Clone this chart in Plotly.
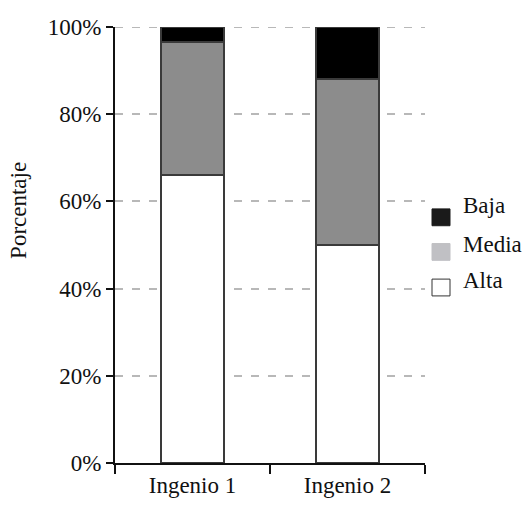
import plotly.graph_objects as go

# Share of each level per mill (percent)
categories = ["Ingenio 1", "Ingenio 2"]
alta = [66.0, 50.0]
media = [30.5, 38.0]
baja = [3.5, 12.0]

levels = ["Alta", "Media", "Baja"]
values = {"Alta": alta, "Media": media, "Baja": baja}
bar_colors = {"Alta": "#ffffff", "Media": "#8c8c8c", "Baja": "#000000"}
key_colors = {"Alta": "#ffffff", "Media": "#c0c0c4", "Baja": "#1a1a1a"}

FONT = "Liberation Serif"

fig = go.Figure()
for lvl in levels:
    fig.add_trace(go.Bar(
        x=categories, y=values[lvl], name=lvl,
        marker=dict(color=bar_colors[lvl], line=dict(color="#3a3a3a", width=2)),
        width=0.41, showlegend=False,
    ))

# Plot area in pixels, used to place the hand-drawn key
L, R, T, B = 115, 425, 27, 468
W, H = 523, 510


def px(xp):
    return (xp - L) / (R - L)


def py(yp):
    return (B - yp) / (B - T)


# Dashed guide at the top of the scale (gridlines stop short of the edge)
fig.add_shape(type="line", xref="paper", yref="y", x0=0, x1=1, y0=100, y1=100,
              layer="below", line=dict(color="#b8b8b8", width=2, dash="8px,9px"))

# Key: swatch boxes (top, bottom in px) and label centres
key = [("Baja", 211, 228, 208), ("Media", 246, 263, 247), ("Alta", 282, 299, 283)]
for lvl, top, bot, ty in key:
    fig.add_shape(type="rect", xref="paper", yref="paper",
                  x0=px(432), x1=px(450), y0=py(bot), y1=py(top),
                  fillcolor=key_colors[lvl],
                  line=dict(color="#333333" if lvl == "Alta" else key_colors[lvl], width=1))
    fig.add_annotation(xref="paper", yref="paper", x=px(461), y=py(ty),
                       text=lvl, showarrow=False, xanchor="left", yanchor="middle",
                       font=dict(family=FONT, size=23, color="#111111"))

fig.add_annotation(xref="paper", yref="paper", x=px(19), y=py(213),
                   text="Porcentaje", textangle=-90, showarrow=False,
                   xanchor="center", yanchor="middle",
                   font=dict(family=FONT, size=23, color="#111111"))

fig.update_layout(
    barmode="stack",
    width=W, height=H,
    margin=dict(l=L, r=W - R, t=T, b=H - B),
    paper_bgcolor="white", plot_bgcolor="white",
    font=dict(family=FONT, size=23, color="#111111"),
)
fig.update_yaxes(
    range=[0, 100], dtick=20, ticksuffix="%",
    showline=True, linecolor="#111111", linewidth=2,
    ticks="outside", ticklen=7, tickwidth=2, tickcolor="#111111",
    showgrid=True, gridcolor="#b8b8b8", gridwidth=2, griddash="8px,9px",
    zeroline=False,
)
fig.update_xaxes(
    range=[-0.5, 1.5], tickson="boundaries",
    showline=True, linecolor="#111111", linewidth=2,
    ticks="outside", ticklen=9, tickwidth=2, tickcolor="#111111",
    showgrid=False,
)

fig.write_html("out.html")
